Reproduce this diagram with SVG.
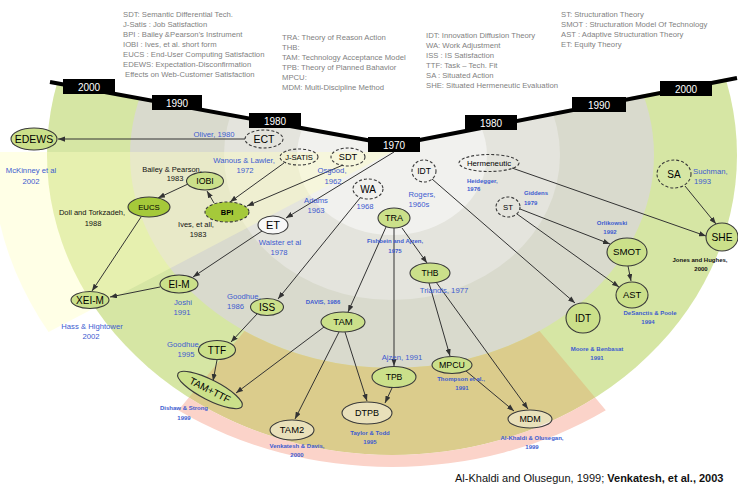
<svg xmlns="http://www.w3.org/2000/svg" width="738" height="485" viewBox="0 0 738 485">
<defs>
<marker id="ah" viewBox="0 0 8 6" refX="8" refY="3" markerWidth="7" markerHeight="5.5" markerUnits="userSpaceOnUse" orient="auto"><path d="M0,0 L8,3 L0,6 z" fill="#333"/></marker>
<clipPath id="wc"><ellipse cx="392" cy="155" rx="400" ry="345"/></clipPath>
<style>
text{font-family:"Liberation Sans",Arial,sans-serif}
.leg{font-size:7.7px;fill:#7f7f7f}
.yr{font-size:10px;fill:#fff;text-anchor:middle}
.nl{fill:#000;text-anchor:middle}
.bl{fill:#3d5bd0;font-size:7.7px;text-anchor:middle}
.bs{fill:#3d5bd0;font-size:6px;font-weight:bold;text-anchor:middle}
.bk{fill:#111;font-size:7.5px;text-anchor:middle}
.bks{fill:#111;font-size:6px;font-weight:bold;text-anchor:middle}
.st{text-anchor:start}
.g{fill:#cbe08a;stroke:#3a3a3a;stroke-width:1.1}
.gb{fill:#a5c93a;stroke:#3a3a3a;stroke-width:1.1}
.d{fill:none;stroke:#3a3a3a;stroke-width:1.1;stroke-dasharray:3 2}
.w{fill:#fff;fill-opacity:.4;stroke:#3a3a3a;stroke-width:1.1}
.c{stroke:#333;stroke-width:1;fill:none;marker-end:url(#ah)}
</style>
</defs>
<g id="background">
<ellipse cx="392" cy="155" rx="345" ry="300" fill="#d6e6a4"/>
<ellipse cx="392" cy="155" rx="262" ry="213" fill="#d9dacd"/>
<ellipse cx="392" cy="155" rx="168" ry="145" fill="#e4e4dd"/>
<ellipse cx="392" cy="155" rx="95" ry="80" fill="#f1f1ee"/>
<path d="M539.5,331.1 L595.1,397.5 A345,300 0 0 1 188.9,397.5 L244.5,331.1 A262,213 0 0 0 539.5,331.1 Z" fill="#dbcc8c"/>
<path d="M595.1,397.5 L605.8,410.3 A372,312 0 0 1 178.2,410.3 L188.9,397.5 A345,300 0 0 0 595.1,397.5 Z" fill="#fbd3c9"/>
<polygon points="392,152 -20,152 -20,368" fill="#ffffc0" fill-opacity="0.4" clip-path="url(#wc)"/>
<polygon points="0,0 738,0 738,76 394,143 50,81 0,81" fill="#fff"/>
</g>
<g id="timeline">
<polyline points="50,82 394,145 737,78" fill="none" stroke="#000" stroke-width="4"/>
<rect x="63" y="79" width="52" height="15" fill="#000"/><text class="yr" x="89" y="90.5">2000</text>
<rect x="152" y="95" width="50" height="15" fill="#000"/><text class="yr" x="177" y="106.5">1990</text>
<rect x="249" y="113" width="52" height="15" fill="#000"/><text class="yr" x="275" y="124.5">1980</text>
<rect x="368" y="137" width="52" height="15" fill="#000"/><text class="yr" x="394" y="148.5">1970</text>
<rect x="465" y="115" width="52" height="15" fill="#000"/><text class="yr" x="491" y="126.5">1980</text>
<rect x="572" y="97" width="54" height="15" fill="#000"/><text class="yr" x="599" y="108.5">1990</text>
<rect x="660" y="81" width="52" height="15" fill="#000"/><text class="yr" x="686" y="92.5">2000</text>
</g>
<g id="legend">
<text class="leg" x="123" y="17">SDT: Semantic Differential Tech.</text>
<text class="leg" x="123" y="27">J-Satis : Job Satisfaction</text>
<text class="leg" x="123" y="37">BPI  : Bailey &amp;Pearson's Instrument</text>
<text class="leg" x="123" y="47">IOBI  : Ives, et al. short form</text>
<text class="leg" x="123" y="57">EUCS : End-User Computing Satisfaction</text>
<text class="leg" x="123" y="67">EDEWS: Expectation-Disconfirmation</text>
<text class="leg" x="125" y="77">Effects on Web-Customer Satisfaction</text>
<text class="leg" x="282" y="40">TRA: Theory of Reason Action</text>
<text class="leg" x="282" y="50">THB:</text>
<text class="leg" x="282" y="60">TAM: Technology Acceptance Model</text>
<text class="leg" x="282" y="70">TPB: Theory of Planned Bahavior</text>
<text class="leg" x="282" y="80">MPCU:</text>
<text class="leg" x="282" y="90">MDM: Multi-Discipline Method</text>
<text class="leg" x="426" y="38">IDT: Innovation Diffusion Theory</text>
<text class="leg" x="426" y="48">WA: Work Adjustment</text>
<text class="leg" x="426" y="58">ISS : IS Satisfaction</text>
<text class="leg" x="426" y="68">TTF: Task – Tech. Fit</text>
<text class="leg" x="426" y="78">SA : Situated Action</text>
<text class="leg" x="426" y="88">SHE: Situated Hermeneutic Evaluation</text>
<text class="leg" x="561" y="17">ST: Structuration Theory</text>
<text class="leg" x="561" y="27">SMOT : Structuration Model Of Technology</text>
<text class="leg" x="561" y="37">AST : Adaptive Structuration Theory</text>
<text class="leg" x="561" y="47">ET: Equity Theory</text>
</g>
<g id="connectors">
<path class="c" d="M245,139 L58,139"/>
<path class="c" d="M284,163 L230,202"/>
<path class="c" d="M343,165 L247,206"/>
<path class="c" d="M214,203 L207,191"/>
<path class="c" d="M188,184 L158,198"/>
<path class="c" d="M141,217 L92,291"/>
<path class="c" d="M160,287 L110,297"/>
<path class="c" d="M262,231 L193,277"/>
<path class="c" d="M394,152 L286,218"/>
<path class="c" d="M360,198 L278,299"/>
<path class="c" d="M257,314 L231,342"/>
<path class="c" d="M217,360 L213,381"/>
<path class="c" d="M324,327 L236,393"/>
<path class="c" d="M386,227 L348,312"/>
<path class="c" d="M394,228 L394,366"/>
<path class="c" d="M402,228 L427,263"/>
<path class="c" d="M339,332 L295,419"/>
<path class="c" d="M345,332 L367,401"/>
<path class="c" d="M392,388 L385,403"/>
<path class="c" d="M429,283 L450,356"/>
<path class="c" d="M436,282 L528,409"/>
<path class="c" d="M466,371 L514,411"/>
<path class="c" d="M432,179 L575,303"/>
<path class="c" d="M520,209 L610,244"/>
<path class="c" d="M517,214 L619,287"/>
<path class="c" d="M628,266 L631,281"/>
<path class="c" d="M512,168 L706,236"/>
<path class="c" d="M685,186 L716,224"/>
</g>
<g id="n-edews"><ellipse class="g" cx="34" cy="139" rx="23" ry="11"/><text class="nl" x="34" y="142.7" font-size="10.5">EDEWS</text></g>
<g id="n-ect"><ellipse class="d" cx="264" cy="139" rx="19" ry="9"/><text class="nl" x="264" y="142.7" font-size="10.5">ECT</text></g>
<g id="n-jsatis"><ellipse class="d" cx="299" cy="157" rx="19" ry="8"/><text class="nl" x="299" y="159.7" font-size="7.6">J-SATIS</text></g>
<g id="n-sdt"><ellipse class="d" cx="348" cy="157" rx="17" ry="9"/><text class="nl" x="348" y="160.2" font-size="9.2">SDT</text></g>
<g id="n-iobi"><ellipse class="g" cx="205" cy="181" rx="18.5" ry="9"/><text class="nl" x="205" y="184.1" font-size="8.8">IOBI</text></g>
<g id="n-eucs"><ellipse class="gb" cx="149" cy="207" rx="21" ry="10"/><text class="nl" x="149" y="209.7" font-size="7.8">EUCS</text></g>
<g id="n-bpi"><ellipse class="gb" cx="227" cy="212" rx="22" ry="10" stroke-dasharray="3 2"/><text class="nl" x="227" y="214.6" font-size="7.5" font-weight="bold">BPI</text></g>
<g id="n-et"><ellipse cx="273" cy="225" rx="15" ry="9" fill="#f8f8f8" stroke="#3a3a3a" stroke-width="1.1"/><text class="nl" x="273" y="228.9" font-size="11">ET</text></g>
<g id="n-wa"><ellipse class="d" cx="368" cy="189" rx="15" ry="10"/><text class="nl" x="368" y="192.5" font-size="10">WA</text></g>
<g id="n-idt0"><ellipse class="d" cx="424" cy="171" rx="12" ry="11"/><text class="nl" x="424" y="174" font-size="8.5">IDT</text></g>
<g id="n-tra"><ellipse class="g" cx="394" cy="218" rx="16" ry="10"/><text class="nl" x="394" y="221.2" font-size="9">TRA</text></g>
<g id="n-eim"><ellipse class="g" cx="179" cy="284" rx="19" ry="9"/><text class="nl" x="179" y="287.5" font-size="10">EI-M</text></g>
<g id="n-xeim"><ellipse class="g" cx="90" cy="300" rx="19" ry="8.5"/><text class="nl" x="90" y="303.5" font-size="10">XEI-M</text></g>
<g id="n-iss"><ellipse class="g" cx="267" cy="307" rx="16.5" ry="8.5"/><text class="nl" x="267" y="310.5" font-size="10">ISS</text></g>
<g id="n-ttf"><ellipse class="g" cx="217" cy="350" rx="18.5" ry="9.5"/><text class="nl" x="217" y="353.5" font-size="10">TTF</text></g>
<g id="n-tamttf" transform="rotate(27 210 390)"><ellipse class="g" cx="210" cy="390" rx="36" ry="10"/><text class="nl" x="210" y="393.5" font-size="10">TAM+TTF</text></g>
<g id="n-tam"><ellipse class="g" cx="343" cy="322" rx="22" ry="10"/><text class="nl" x="343" y="325.3" font-size="9.5">TAM</text></g>
<g id="n-tam2"><ellipse class="w" cx="292" cy="430" rx="22" ry="10"/><text class="nl" x="292" y="433.3" font-size="9.4">TAM2</text></g>
<g id="n-dtpb"><ellipse class="w" cx="367" cy="413" rx="25" ry="11"/><text class="nl" x="367" y="416.2" font-size="9">DTPB</text></g>
<g id="n-tpb"><ellipse class="g" cx="394" cy="377" rx="22" ry="10.5"/><text class="nl" x="394" y="380" font-size="8.6">TPB</text></g>
<g id="n-thb"><ellipse class="g" cx="430" cy="273" rx="20" ry="10"/><text class="nl" x="430" y="276" font-size="8.5">THB</text></g>
<g id="n-mpcu"><ellipse class="g" cx="452" cy="365" rx="20" ry="8.5"/><text class="nl" x="452" y="368.1" font-size="8.8">MPCU</text></g>
<g id="n-mdm"><ellipse class="w" cx="530" cy="419" rx="22" ry="9"/><text class="nl" x="530" y="422.1" font-size="8.9">MDM</text></g>
<g id="n-idt"><ellipse class="g" cx="583" cy="318" rx="17" ry="15"/><text class="nl" x="583" y="321.5" font-size="10">IDT</text></g>
<g id="n-ast"><ellipse class="g" cx="632" cy="295" rx="16" ry="13"/><text class="nl" x="632" y="298.3" font-size="9.4">AST</text></g>
<g id="n-smot"><ellipse class="g" cx="627" cy="252" rx="20" ry="14"/><text class="nl" x="627" y="255.4" font-size="9.7">SMOT</text></g>
<g id="n-st"><ellipse class="d" cx="508" cy="207" rx="12" ry="10"/><text class="nl" x="508" y="209.7" font-size="7.8">ST</text></g>
<g id="n-herm"><ellipse class="d" cx="489" cy="163" rx="30" ry="8.5"/><text class="nl" x="489" y="165.7" font-size="7.8">Hermeneutic</text></g>
<g id="n-sa"><ellipse class="d" cx="674" cy="174" rx="17" ry="14"/><text class="nl" x="674" y="177.5" font-size="10">SA</text></g>
<g id="n-she"><ellipse class="g" cx="722" cy="237" rx="16" ry="14"/><text class="nl" x="722" y="240.6" font-size="10.2">SHE</text></g>
<g id="labels">
<text class="bl" x="214" y="137">Oliver, 1980</text>
<text class="bl" x="31" y="173">McKinney et al</text>
<text class="bl" x="31" y="184">2002</text>
<text class="bl" x="244" y="163">Wanous &amp; Lawler,</text>
<text class="bl" x="245" y="173">1972</text>
<text class="bl" x="332" y="173">Osgood,</text>
<text class="bl" x="333" y="184">1962</text>
<text class="bl" x="316" y="203">Adams</text>
<text class="bl" x="316" y="213">1963</text>
<text class="bl" x="365" y="209">1968</text>
<text class="bl" x="422" y="197">Rogers,</text>
<text class="bl" x="419" y="207">1960s</text>
<text class="bl" x="280" y="245">Walster et al</text>
<text class="bl" x="279" y="255">1978</text>
<text class="bl" x="183" y="305">Joshi</text>
<text class="bl" x="182" y="315">1991</text>
<text class="bl" x="92" y="329">Hass &amp; Hightower</text>
<text class="bl" x="91" y="339">2002</text>
<text class="bl st" x="227" y="299">Goodhue,</text>
<text class="bl st" x="227" y="309">1986</text>
<text class="bl" x="184" y="347">Goodhue,</text>
<text class="bl" x="186" y="357">1995</text>
<text class="bl" x="402" y="360">Ajzen, 1991</text>
<text class="bl" x="444" y="293">Triandis, 1977</text>
<text class="bl st" x="693" y="174">Suchman,</text>
<text class="bl st" x="694" y="184">1993</text>
<text class="bs" x="395" y="243">Fishbein and Ajzen,</text>
<text class="bs" x="395" y="253">1975</text>
<text class="bs" x="323" y="304">DAVIS, 1986</text>
<text class="bs" x="184" y="410">Dishaw &amp; Strong</text>
<text class="bs" x="184" y="420">1999</text>
<text class="bs" x="297" y="448">Venkatesh &amp; Davis,</text>
<text class="bs" x="297" y="457">2000</text>
<text class="bs" x="370" y="435">Taylor &amp; Todd</text>
<text class="bs" x="370" y="444">1995</text>
<text class="bs" x="461" y="381">Thompson et al.,</text>
<text class="bs" x="462" y="390">1991</text>
<text class="bs" x="532" y="440">Al-Khaldi &amp; Olusegan,</text>
<text class="bs" x="532" y="449">1999</text>
<text class="bs" x="597" y="351">Moore &amp; Benbasat</text>
<text class="bs" x="597" y="360">1991</text>
<text class="bs" x="650" y="315">DeSanctis &amp; Poole</text>
<text class="bs" x="648" y="324">1994</text>
<text class="bs" x="612" y="225">Orlikowski</text>
<text class="bs" x="610" y="234">1992</text>
<text class="bs st" x="524" y="195">Giddens</text>
<text class="bs st" x="524" y="205">1979</text>
<text class="bs st" x="467" y="183">Heidegger,</text>
<text class="bs st" x="467" y="191">1976</text>
<text class="bk" x="172" y="172">Bailey &amp; Pearson,</text>
<text class="bk" x="175" y="181">1983</text>
<text class="bk" x="92" y="215">Doll and Torkzadeh,</text>
<text class="bk" x="93" y="226">1988</text>
<text class="bk" x="196" y="227">Ives, et all,</text>
<text class="bk" x="198" y="237">1983</text>
<text class="bks" x="700" y="262">Jones and Hughes,</text>
<text class="bks" x="701" y="271">2000</text>
<text x="455" y="482" font-size="11" fill="#111">Al-Khaldi and Olusegun, 1999; <tspan font-weight="bold">Venkatesh, et al., 2003</tspan></text>
</g>
</svg>
